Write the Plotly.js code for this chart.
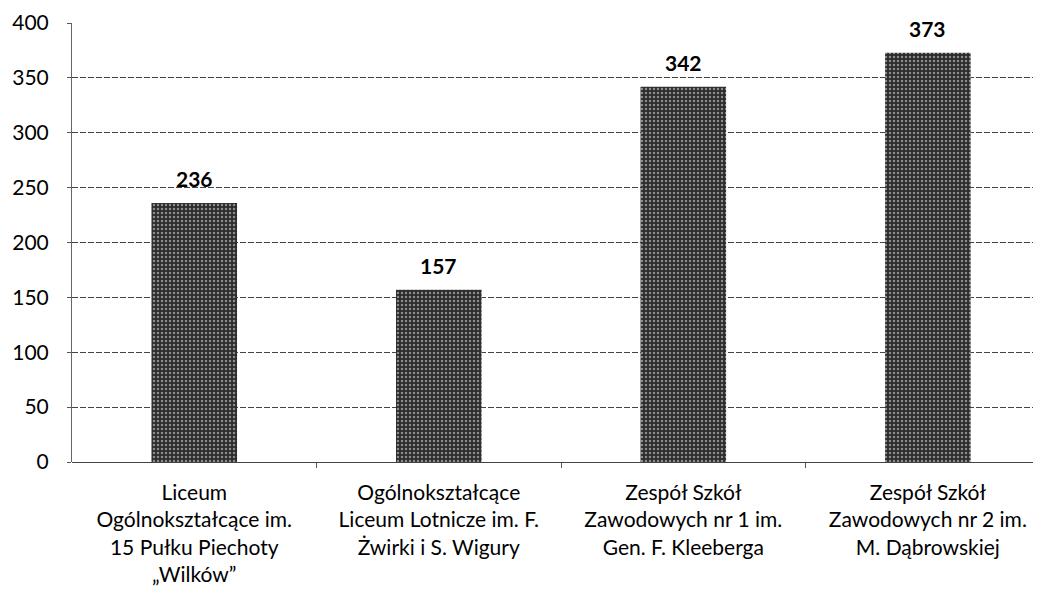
<!DOCTYPE html>
<html>
<head>
<meta charset="utf-8">
<script src="https://cdn.plot.ly/plotly-3.0.1.min.js"></script>
<style>html,body{margin:0;padding:0;background:#fff;}#chart{width:1045px;height:605px;}</style>
</head>
<body>
<div id="chart"></div>
<script>
const categories = [
  "Liceum<br>Ogólnokształcące im.<br>15 Pułku Piechoty<br>„Wilków”",
  "Ogólnokształcące<br>Liceum Lotnicze im. F.<br>Żwirki i S. Wigury",
  "Zespół Szkół<br>Zawodowych nr 1 im.<br>Gen. F. Kleeberga",
  "Zespół Szkół<br>Zawodowych nr 2 im.<br>M. Dąbrowskiej"
];
const values = [236, 157, 342, 373];
const yTicks = [0, 50, 100, 150, 200, 250, 300, 350, 400];
const categoryBoundaries = [0.5, 1.5, 2.5];

const FONT = "Lato, 'Open Sans', sans-serif";

const trace = {
  type: "bar",
  x: [0, 1, 2, 3],
  y: values,
  width: 0.35,
  marker: {
    color: "#2b2b2b",
    line: {width: 0},
    pattern: {shape: ".", fgcolor: "#8c8c8c", bgcolor: "#2b2b2b", size: 4, solidity: 0.3}
  },
  hoverinfo: "none"
};

// invisible helper trace so the boundary-tick axis is drawn
const tickHelper = {
  type: "scatter", mode: "none",
  x: categoryBoundaries, y: categoryBoundaries.map(() => null),
  xaxis: "x2", yaxis: "y", hoverinfo: "none", showlegend: false
};

const annotations = values.map((v, i) => ({
  x: i, y: v, xref: "x", yref: "y",
  text: "<b>" + v + "</b>",
  showarrow: false, yanchor: "bottom", yshift: 10,
  font: {family: FONT, size: 21, color: "#000"}
}));

const layout = {
  width: 1045, height: 605,
  margin: {l: 72, r: 12, t: 23, b: 143},
  paper_bgcolor: "#fff", plot_bgcolor: "#fff",
  showlegend: false,
  font: {family: FONT, size: 21, color: "#000"},
  xaxis: {
    range: [-0.5, 3.43],
    tickmode: "array", tickvals: [0, 1, 2, 3], ticktext: categories,
    showgrid: false, zeroline: false,
    showline: false,
    ticks: "", ticklabelstandoff: 16,
    tickfont: {family: FONT, size: 21, color: "#000"},
    fixedrange: true
  },
  xaxis2: {
    overlaying: "x", anchor: "y", side: "bottom",
    range: [-0.5, 3.43],
    tickmode: "array", tickvals: categoryBoundaries,
    showticklabels: false, showgrid: false, zeroline: false, showline: false,
    ticks: "outside", ticklen: 5, tickcolor: "#555", tickwidth: 1,
    fixedrange: true
  },
  yaxis: {
    range: [0, 400],
    tickmode: "array", tickvals: yTicks,
    showgrid: true, gridcolor: "#444", gridwidth: 1, griddash: "6px,2px",
    zeroline: true, zerolinecolor: "#444", zerolinewidth: 1,
    showline: true, linecolor: "#666", linewidth: 1,
    ticks: "outside", ticklen: 4, tickcolor: "#555",
    ticklabelstandoff: 14,
    tickfont: {family: FONT, size: 21, color: "#000"},
    fixedrange: true
  },
  annotations: annotations
};

Plotly.newPlot("chart", [trace, tickHelper], layout, {displayModeBar: false, staticPlot: true});
</script>
</body>
</html>
